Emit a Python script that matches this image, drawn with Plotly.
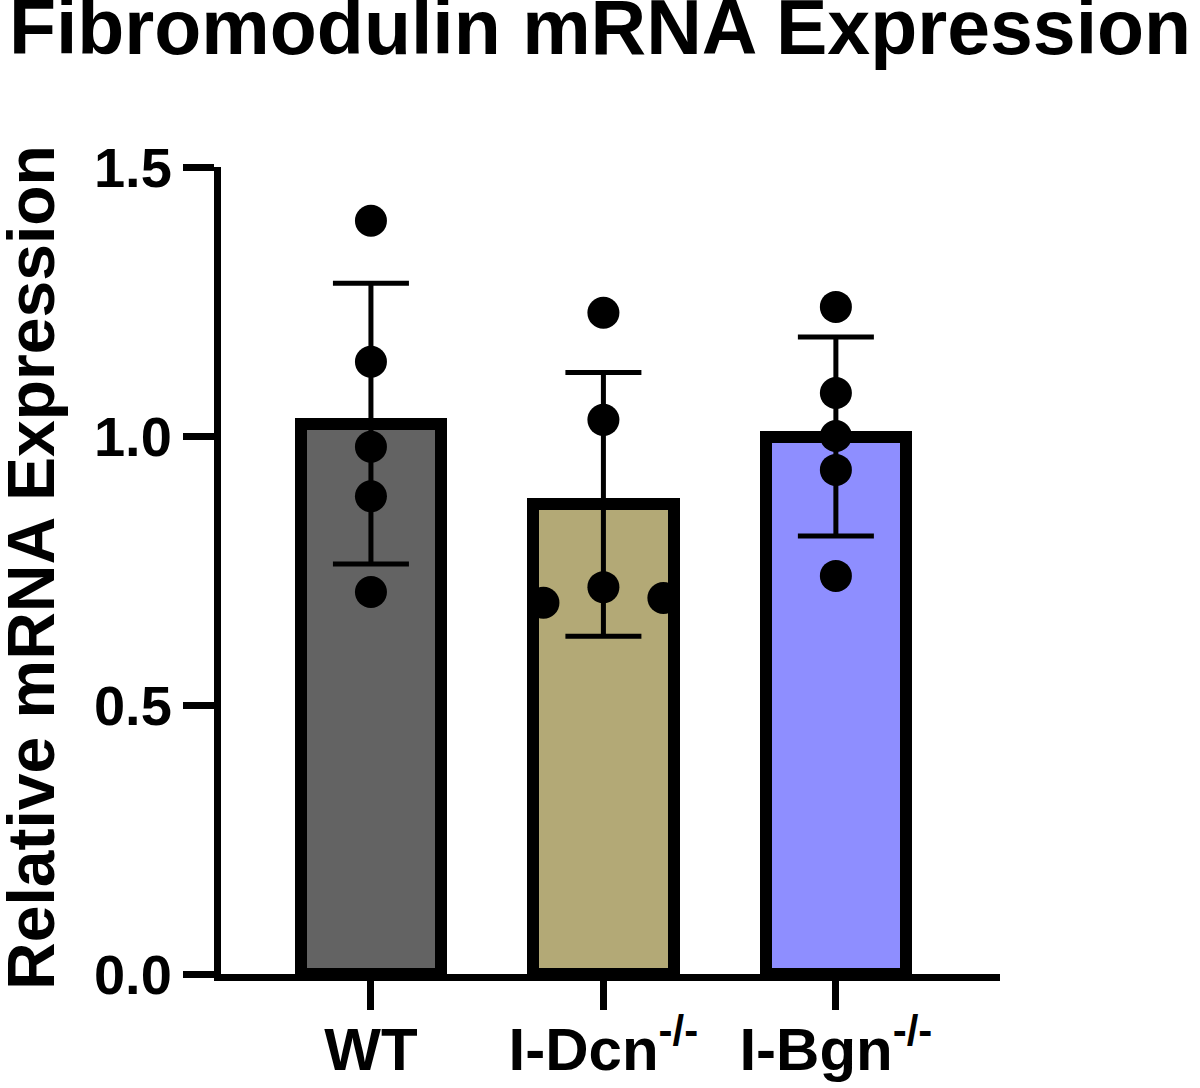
import plotly.graph_objects as go

# ---- data ----
categories = ["WT", "I-Dcn", "I-Bgn"]
tick_labels = ["WT", "I-Dcn<sup>-/-</sup>", "I-Bgn<sup>-/-</sup>"]
means = [1.023, 0.873, 0.999]
sds = [0.261, 0.245, 0.185]
wt_points = [1.400, 1.138, 0.980, 0.888, 0.710]
dcn_points = [1.229, 1.030, 0.719, 0.690, 0.699]
bgn_points = [1.240, 1.080, 1.000, 0.937, 0.740]
y_ticks = [0.0, 0.5, 1.0, 1.5]

# ---- style ----
bar_colors = ["#636363", "#b3a976", "#8e8eff"]
point_offsets = {
    "WT": [0, 0, 0, 0, 0],
    "I-Dcn": [0, 0, 0, -0.258, 0.258],
    "I-Bgn": [0, 0, 0, 0, 0],
}
FONT = "Liberation Sans, Arial, Helvetica, sans-serif"

groups = {"WT": wt_points, "I-Dcn": dcn_points, "I-Bgn": bgn_points}
xpos = list(range(len(categories)))

fig = go.Figure()
fig.add_trace(go.Bar(
    x=xpos, y=means, width=0.605,
    marker=dict(color=bar_colors, line=dict(color="black", width=12)),
    error_y=dict(type="data", array=sds, visible=True, color="black",
                 thickness=5, width=38),
    showlegend=False, hoverinfo="skip",
))

for i, cat in enumerate(categories):
    pts = groups[cat]
    xs = [i + o for o in point_offsets[cat]]
    fig.add_trace(go.Scatter(
        x=xs, y=pts, mode="markers",
        marker=dict(color="black", size=32, line=dict(width=0)),
        showlegend=False, hoverinfo="skip", cliponaxis=False,
    ))

fig.update_layout(
    width=1200, height=1088,
    margin=dict(l=221, r=200, t=167, b=114, autoexpand=False),
    paper_bgcolor="white", plot_bgcolor="white",
    font=dict(family=FONT, color="black"),
    title=dict(text="Fibromodulin mRNA Expression",
               font=dict(family=FONT, size=77, weight="bold", color="black"),
               x=0.5, xanchor="center", xref="container", y=1.0, yanchor="top",
               pad=dict(t=0, b=0, l=0, r=0), automargin=False),
    bargap=0,
)

fig.update_xaxes(
    range=[-0.645, 2.706], automargin=False,
    tickmode="array", tickvals=xpos, ticktext=tick_labels,
    tickfont=dict(family=FONT, size=60, weight="bold", color="black"),
    ticks="outside", ticklen=29, tickwidth=7, tickcolor="black",
    ticklabelstandoff=-12,
    showline=True, linewidth=7, linecolor="black",
    showgrid=False, zeroline=False,
)
fig.update_yaxes(
    range=[0, 1.5], automargin=False,
    tickmode="array", tickvals=y_ticks, ticktext=[f"{v:.1f}" for v in y_ticks],
    tickfont=dict(family=FONT, size=56, weight="bold", color="black"),
    ticks="outside", ticklen=31, tickwidth=7, tickcolor="black",
    showline=True, linewidth=7, linecolor="black",
    showgrid=False, zeroline=False,
)

fig.add_annotation(
    text="Relative mRNA Expression", textangle=-90,
    xref="paper", yref="paper", x=-0.243, y=0.504,
    xanchor="center", yanchor="middle", showarrow=False,
    font=dict(family=FONT, size=66, weight="bold", color="black"),
)

fig.write_html("out.html", config={"displayModeBar": False},
               post_script="document.body.style.margin='0';")
